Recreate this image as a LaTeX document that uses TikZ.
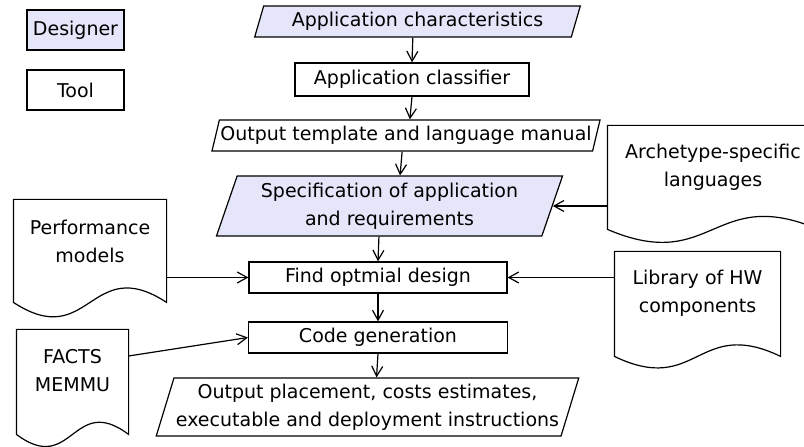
\documentclass[tikz,border=0pt]{standalone}
\usepackage{fontspec}
\setmainfont{DejaVu Sans}
\usepackage{tikz}
\usetikzlibrary{arrows.meta, shapes.geometric, calc}

\definecolor{designerfill}{RGB}{230,230,250}

\tikzset{
    toolbox/.style = {draw, rectangle, inner sep=1pt},
    designerbox/.style = {toolbox, fill=designerfill},
    datanode/.style = {draw, trapezium, trapezium left angle=70, trapezium right angle=110,
        trapezium stretches=true, inner xsep=1pt, inner ysep=1pt, align=center},
    specnode/.style = {datanode, fill=designerfill},
    docnode/.style = {rectangle, inner sep=0pt, align=center, minimum height=82pt},
    flow/.style = {-{Straight Barb[length=10pt,width=11pt]}}
}

% outline of a document node: straight height #2, wave #3
\newcommand\docoutline[3]{%
    \draw ($(#1.north west)+(0,-#2)$) -- (#1.north west) -- (#1.north east) -- ($(#1.north east)+(0,-#2)$)
        .. controls ($(#1.north)+(0,-#2+#3)$) and ($(#1.north)+(0,-#2-#3)$) .. ($(#1.north west)+(0,-#2)$) -- cycle;
}

\begin{document}
\begin{tikzpicture}[x=1pt, y=1pt, line width=1.2pt, font=\fontsize{19}{28}\selectfont]
            \useasboundingbox (0,0) rectangle (804,447);

            % legend
            \node[designerbox, minimum width=97pt, minimum height=40pt] (designer) at (75.5,417) {Designer};
            \node[toolbox, minimum width=97pt, minimum height=40pt] (tool) at (75.5,357) {Tool};

            % main flow
            \node[specnode, minimum width=326pt, minimum height=31pt] (appchar) at (417.5,425.5) {Application characteristics};
            \node[toolbox, minimum width=234pt, minimum height=33pt] (classifier) at (412,367.5) {Application classifier};
            \node[datanode, minimum width=390pt, minimum height=31pt] (template) at (406,311.5) {Output template and language manual};
            \node[specnode, minimum width=347pt, minimum height=60pt] (spec) at (389.5,241) {Specification of application\\and requirements};
            \node[toolbox, minimum width=258pt, minimum height=31pt] (find) at (378,169.5) {Find optmial design};
            \node[toolbox, minimum width=259pt, minimum height=31pt] (code) at (378,109.5) {Code generation};
            \node[datanode, minimum width=425pt, minimum height=58pt] (output) at (367.5,40) {Output placement, costs estimates,\\executable and deployment instructions};

            % documents
            \node[docnode, minimum width=152pt] (perf) at (90,206) {Performance\\models};
            \node[docnode, minimum width=111pt] (facts) at (72.5,76) {FACTS\\MEMMU};
            \node[docnode, minimum width=210pt] (arch) at (713,280) {Archetype-specific\\languages};
            \node[docnode, minimum width=165pt] (library) at (697.5,154) {Library of HW\\components};

            \docoutline{perf}{103}{50}
            \docoutline{facts}{105}{42}
            \docoutline{arch}{104}{45}
            \docoutline{library}{105}{40}

            \draw[flow] (appchar.bottom side) -- (classifier.north);
            \draw[flow] (classifier.south) -- (template.top side);
            \draw[flow] (template.bottom side) -- (spec.top side);
            \draw[flow] (spec.bottom side) -- (find.north);
            \draw[flow] (find.south) -- (code.north);
            \draw[flow] (code.south) -- (output.top side);

            \draw[flow] (perf.east |- find.west) -- (find.west);
            \draw[flow] ($(facts.east)+(0,15)$) -- (code.west);
            \draw[flow] (arch.west |- spec.right side) -- (spec.right side);
            \draw[flow] (library.west |- find.east) -- (find.east);
        \end{tikzpicture}
\end{document}
